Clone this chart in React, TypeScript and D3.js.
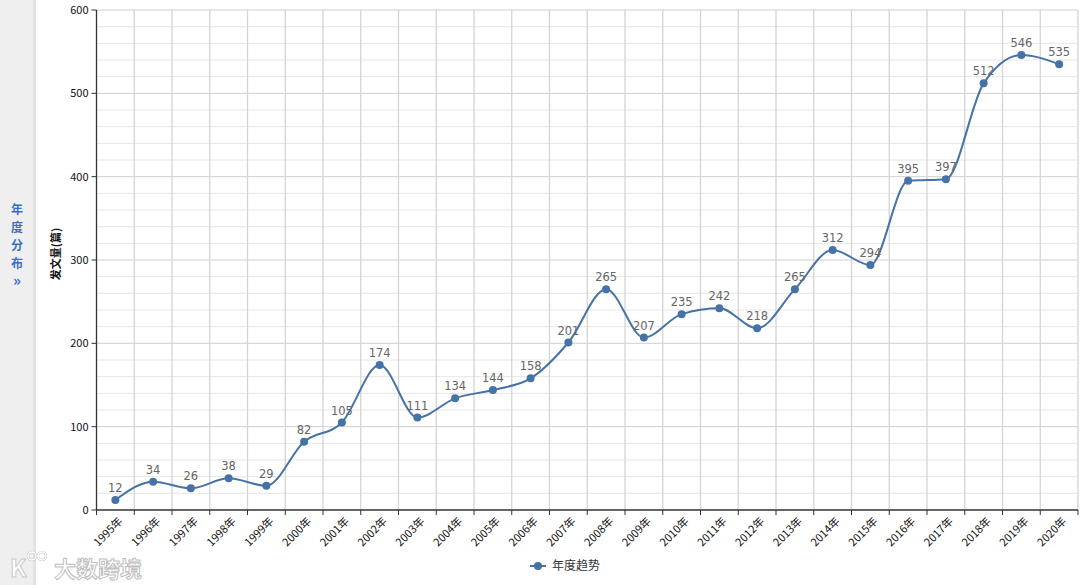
import React from "react";
import * as d3 from "d3";

const years = ["1995年","1996年","1997年","1998年","1999年","2000年","2001年","2002年","2003年","2004年","2005年","2006年","2007年","2008年","2009年","2010年","2011年","2012年","2013年","2014年","2015年","2016年","2017年","2018年","2019年","2020年"];
const counts = [12,34,26,38,29,82,105,174,111,134,144,158,201,265,207,235,242,218,265,312,294,395,397,512,546,535];
const yTicks = [0,100,200,300,400,500,600];
const seriesName = "年度趋势";
const yTitle = "发文量(篇)";
const sideLabel = ["年","度","分","布","»"];

const W = 1080, H = 585;
const left = 96.5, right = 1078, top = 10, bottom = 510;
const COLOR = "#4572A7";
const FONT = "'Microsoft YaHei','Noto Sans CJK SC','DejaVu Sans',sans-serif";

export default function App() {
  const x = d3.scaleBand<string>().domain(years).range([left, right]).padding(0);
  const y = d3.scaleLinear().domain([0, 600]).range([bottom, top]);
  const minor = d3.range(0, 601, 20);
  const line = d3.line<number>()
    .x((_, i) => (x(years[i]) as number) + x.bandwidth() / 2)
    .y(d => y(d))
    .curve(d3.curveMonotoneX);
  const bounds = years.map(yr => x(yr) as number).concat([right]);
  return (
    <svg width={W} height={H} style={{ position: "absolute", left: 0, top: 0, background: "#fff" }} fontFamily={FONT}>
      {/* sidebar */}
      <rect x={0} y={0} width={33} height={H} fill="#efefef" />
      <rect x={33} y={0} width={3} height={H} fill="#e2e2e2" />
      {sideLabel.map((c, i) => (
        <text key={i} x={17} y={214 + i * 18} textAnchor="middle" fontSize={i === 4 ? 15 : 12} fontWeight="bold" fill="#3a6fc4">{c}</text>
      ))}
      {/* minor grid */}
      {minor.filter(v => v % 100 !== 0).map(v => (
        <line key={"m" + v} x1={left} x2={right} y1={y(v)} y2={y(v)} stroke="#e6e6e6" strokeWidth={1} />
      ))}
      {yTicks.filter(v => v > 0).map(v => (
        <line key={"g" + v} x1={left} x2={right} y1={y(v)} y2={y(v)} stroke="#d0d0d0" strokeWidth={1} />
      ))}
      {bounds.slice(1).map((bx, i) => (
        <line key={"v" + i} x1={bx} x2={bx} y1={top} y2={bottom} stroke="#d4d4d4" strokeWidth={1.3} />
      ))}
      {/* axes */}
      <line x1={left} x2={left} y1={top} y2={bottom} stroke="#333" strokeWidth={1.3} />
      <line x1={left} x2={right} y1={bottom} y2={bottom} stroke="#333" strokeWidth={1.3} />
      {yTicks.map(v => (
        <g key={"yt" + v}>
          <line x1={left - 5} x2={left} y1={y(v)} y2={y(v)} stroke="#333" />
          <text x={left - 8} y={y(v) + 4} textAnchor="end" fontSize={11} fill="#111">{v}</text>
        </g>
      ))}
      {bounds.map((bx, i) => (
        <line key={"xt" + i} x1={bx} x2={bx} y1={bottom} y2={bottom + 5} stroke="#333" />
      ))}
      {years.map(yr => {
        const cx = (x(yr) as number) + x.bandwidth() / 2;
        return (
          <text key={yr} transform={`translate(${cx + 8},${bottom + 12}) rotate(-45)`} textAnchor="end" fontSize={11} fill="#111">{yr}</text>
        );
      })}
      <text transform={`translate(60,${y(300) - 6}) rotate(-90)`} textAnchor="middle" fontSize={11} fontWeight="bold" fill="#111">{yTitle}</text>
      {/* series */}
      <path d={line(counts) as string} fill="none" stroke={COLOR} strokeWidth={2} />
      {counts.map((v, i) => {
        const cx = (x(years[i]) as number) + x.bandwidth() / 2;
        return (
          <g key={"p" + i}>
            <circle cx={cx} cy={y(v)} r={4} fill={COLOR} />
            <text x={cx} y={y(v) - 8} textAnchor="middle" fontSize={12} fill="#666" fontFamily="'DejaVu Sans',sans-serif" fontSize={11.5}>{v}</text>
          </g>
        );
      })}
      {/* legend */}
      <line x1={530} x2={546} y1={566} y2={566} stroke={COLOR} strokeWidth={2} />
      <circle cx={538} cy={566} r={4} fill={COLOR} />
      <text x={552} y={570} fontSize={12} fill="#333">{seriesName}</text>
      {/* watermark */}
      <g>
        <text x={10} y={577} fontSize={24} fontWeight="bold" fill="#fff" stroke="#c8c8c8" strokeWidth={1}>K</text>
        <circle cx={32} cy={556} r={4} fill="none" stroke="#c8c8c8" strokeWidth={2.5} />
        <circle cx={32} cy={556} r={4} fill="none" stroke="#fff" strokeWidth={1.5} />
        <circle cx={42} cy={556} r={4} fill="none" stroke="#c8c8c8" strokeWidth={2.5} />
        <circle cx={42} cy={556} r={4} fill="none" stroke="#fff" strokeWidth={1.5} />
        <text x={54} y={577} fontSize={22} fontWeight="bold" fill="#fff" stroke="#c0c0c0" strokeWidth={1}>大数跨境</text>
      </g>
    </svg>
  );
}
